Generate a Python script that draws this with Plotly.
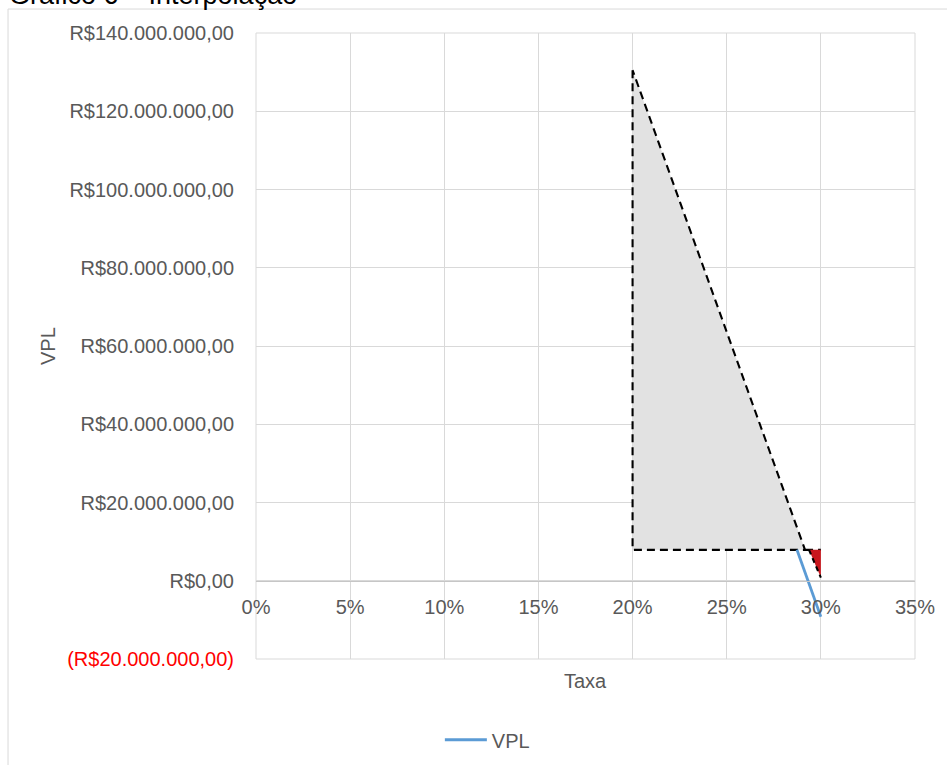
import plotly.graph_objects as go

# --- data -----------------------------------------------------------------
# VPL line (rate, net present value)
taxa_vpl = [0.2873, 0.30]
vpl = [7.9e6, -9.2e6]

# large interpolation triangle (rate, value)
tri_grande_x = [0.20, 0.20, 0.2916]
tri_grande_y = [130.5e6, 7.9e6, 7.9e6]

# small interpolation triangle (rate, value)
tri_pequeno_x = [0.2937, 0.30, 0.30]
tri_pequeno_y = [7.9e6, 7.9e6, 0.8e6]

# axis ticks
y_ticks = [-20e6, 0, 20e6, 40e6, 60e6, 80e6, 100e6, 120e6, 140e6]
x_ticks = [0, 0.05, 0.10, 0.15, 0.20, 0.25, 0.30, 0.35]
x_labels = ["0%", "5%", "10%", "15%", "20%", "25%", "30%", "35%"]


def brl(v):
    s = f"{abs(v):,.2f}".replace(",", "X").replace(".", ",").replace("X", ".")
    if v < 0:
        return f'<span style="color:#ff0000">(R${s})</span>'
    return f"R${s}"


FONT = "Liberation Sans, Arial, sans-serif"
GRAY_TXT = "#595959"
GRID = "#d9d9d9"
DASH = "8px,5px"
LW = 2.1
FS = 20

fig = go.Figure()

# large triangle: gray fill, then dashed edges
fig.add_trace(go.Scatter(
    x=tri_grande_x + [tri_grande_x[0]], y=tri_grande_y + [tri_grande_y[0]],
    mode="lines", fill="toself", fillcolor="#e2e2e2",
    line=dict(width=0), hoverinfo="skip", showlegend=False))
fig.add_trace(go.Scatter(
    x=tri_grande_x + [tri_grande_x[0]], y=tri_grande_y + [tri_grande_y[0]],
    mode="lines", line=dict(color="black", width=LW, dash=DASH),
    hoverinfo="skip", showlegend=False))
# horizontal dashed base stretching to the second rate
fig.add_trace(go.Scatter(
    x=[tri_grande_x[2], tri_pequeno_x[1]], y=[tri_grande_y[2], tri_pequeno_y[1]],
    mode="lines", line=dict(color="black", width=LW, dash=DASH),
    hoverinfo="skip", showlegend=False))

# small triangle: red fill, dashed hypotenuse
fig.add_trace(go.Scatter(
    x=tri_pequeno_x + [tri_pequeno_x[0]], y=tri_pequeno_y + [tri_pequeno_y[0]],
    mode="lines", fill="toself", fillcolor="#c8161d",
    line=dict(width=0), hoverinfo="skip", showlegend=False))
fig.add_trace(go.Scatter(
    x=[tri_pequeno_x[0], tri_pequeno_x[2]], y=[tri_pequeno_y[0], tri_pequeno_y[2]],
    mode="lines", line=dict(color="black", width=LW, dash="5px,4px"),
    hoverinfo="skip", showlegend=False))

# VPL series
fig.add_trace(go.Scatter(
    x=taxa_vpl, y=vpl, mode="lines", name="VPL",
    line=dict(color="#5b9bd5", width=2.8)))

fig.update_layout(
    width=947, height=765,
    margin=dict(l=256, r=32, t=33, b=106, autoexpand=False),
    paper_bgcolor="white", plot_bgcolor="white",
    font=dict(family=FONT, color=GRAY_TXT, size=FS),
    showlegend=True,
    legend=dict(orientation="h", x=0.279, xanchor="left", y=-0.129, yanchor="middle",
                font=dict(size=FS, color=GRAY_TXT), itemwidth=42,
                bgcolor="rgba(0,0,0,0)"),
    xaxis=dict(range=[0, 0.35], tickvals=x_ticks, ticktext=x_labels,
               showgrid=True, gridcolor=GRID, gridwidth=1,
               zeroline=False, showline=True, linecolor="#c6c6c6", linewidth=1,
               anchor="free", position=0.125, ticks="", ticklabelstandoff=8,
               tickfont=dict(size=FS, color=GRAY_TXT)),
    yaxis=dict(range=[-20e6, 140e6], tickvals=y_ticks,
               ticktext=[brl(v) for v in y_ticks],
               showgrid=True, gridcolor=GRID, gridwidth=1,
               zeroline=False, showline=False, ticks="", ticklabelstandoff=21,
               tickfont=dict(size=FS, color=GRAY_TXT)),
    shapes=[
        # plot-area frame
        dict(type="rect", xref="paper", yref="paper", x0=0, x1=1, y0=0, y1=1,
             line=dict(color=GRID, width=1), layer="below"),
        # outer chart border
        dict(type="rect", xref="paper", yref="paper", x0=-0.3763, x1=1.2,
             y0=-0.5, y1=1.0383, line=dict(color=GRID, width=1), layer="below"),
    ],
    annotations=[
        dict(text="Gráfico 6 – Interpolação", xref="paper", yref="paper",
             x=-0.378, y=1.0335, xanchor="left", yanchor="bottom", showarrow=False,
             font=dict(size=27, color="black", family=FONT)),
        dict(text="Taxa", xref="paper", yref="paper", x=0.5, y=(659 - 681) / 626,
             xanchor="center", yanchor="middle", showarrow=False,
             font=dict(size=FS, color=GRAY_TXT)),
        dict(text="VPL", xref="paper", yref="paper", x=(48 - 256) / 659, y=0.5,
             xanchor="center", yanchor="middle", showarrow=False, textangle=-90,
             font=dict(size=FS, color=GRAY_TXT)),
    ],
)

fig.write_html("out.html")
